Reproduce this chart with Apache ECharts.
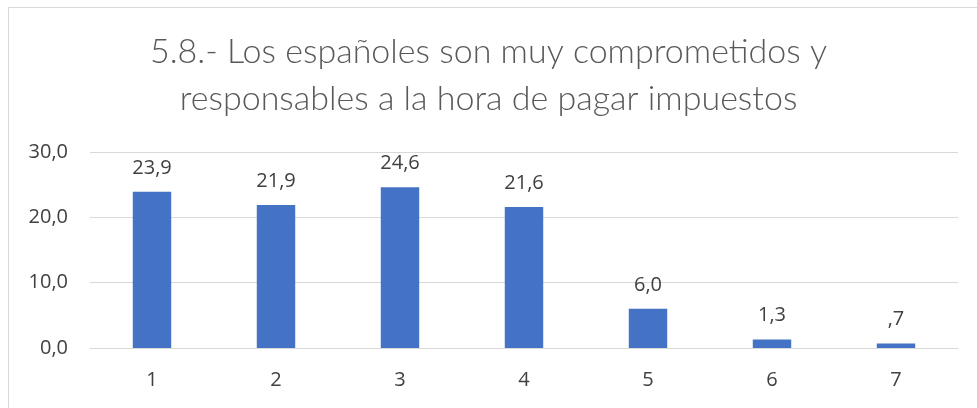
<!DOCTYPE html>
<html>
<head>
<meta charset="utf-8">
<script src="https://cdn.jsdelivr.net/npm/echarts@6/dist/echarts.min.js"></script>
<style>
  html, body { margin: 0; padding: 0; background: #fff; }
  #main { width: 977px; height: 408px; position: relative; }
  .frame { position: absolute; left: 8px; top: 7px; width: 1000px; height: 500px; border: 1px solid #d9d9d9; box-sizing: border-box; pointer-events: none; }
</style>
</head>
<body>
<div id="main"></div>
<script>
const categories = ['1', '2', '3', '4', '5', '6', '7']
const values = [23.9, 21.9, 24.6, 21.6, 6.0, 1.3, 0.7]
const yTicks = [0, 10, 20, 30]
const titleText = '5.8.- Los españoles son muy comprometidos y\nresponsables a la hora de pagar impuestos'

const chart = echarts.init(document.getElementById('main'))
const frame = document.createElement('div')
frame.className = 'frame'
document.getElementById('main').appendChild(frame)

chart.setOption({
  animation: false,
  title: {
    text: titleText,
    left: 'center',
    top: 24,
    textStyle: {
      fontFamily: 'Lato',
      fontWeight: 300,
      fontSize: 34,
      color: '#595959',
      lineHeight: 47
    }
  },
  grid: { left: 90, right: 19, top: 152, bottom: 60 },
  xAxis: {
    type: 'category',
    data: categories,
    axisLine: { lineStyle: { color: '#d9d9d9', width: 1 } },
    axisTick: { show: false },
    axisLabel: { color: '#404040', fontSize: 20, fontFamily: 'Open Sans', margin: 22 }
  },
  yAxis: {
    type: 'value',
    min: yTicks[0],
    max: yTicks[yTicks.length - 1],
    interval: 10,
    axisLine: { show: false },
    axisTick: { show: false },
    splitLine: { lineStyle: { color: '#d9d9d9', width: 1 } },
    axisLabel: {
      color: '#404040',
      fontSize: 20,
      fontFamily: 'Open Sans',
      margin: 22,
      formatter: function (v) { return v.toFixed(1).replace('.', ',') }
    }
  },
  series: [{
    type: 'bar',
    data: values,
    barWidth: '31%',
    itemStyle: { color: '#4472c4' },
    label: {
      show: true,
      position: 'top',
      distance: 14,
      color: '#404040',
      fontSize: 20,
      fontFamily: 'Open Sans',
      formatter: function (p) {
        let s = p.value.toFixed(1).replace('.', ',')
        if (p.value < 1) s = s.slice(1)
        return s
      }
    }
  }]
})
</script>
</body>
</html>
